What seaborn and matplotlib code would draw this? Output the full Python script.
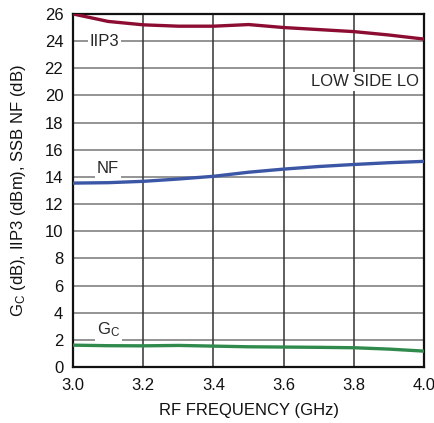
import matplotlib
matplotlib.use("Agg")
import matplotlib.pyplot as plt
import seaborn as sns
import pandas as pd
from matplotlib import font_manager

freq = [3.0, 3.1, 3.2, 3.3, 3.4, 3.5, 3.6, 3.7, 3.8, 3.9, 4.0]
iip3 = [26.0, 25.45, 25.2, 25.1, 25.1, 25.22, 25.0, 24.85, 24.7, 24.45, 24.15]
nf = [13.55, 13.58, 13.68, 13.85, 14.05, 14.35, 14.58, 14.77, 14.92, 15.05, 15.15]
gc = [1.62, 1.58, 1.57, 1.6, 1.55, 1.5, 1.48, 1.46, 1.43, 1.33, 1.18]

xticks = [3.0, 3.2, 3.4, 3.6, 3.8, 4.0]
yticks = list(range(0, 27, 2))

sns.set_theme(style="white")
names = {f.name for f in font_manager.fontManager.ttflist}
fam = "Liberation Sans Narrow" if "Liberation Sans Narrow" in names else "Liberation Sans"
plt.rcParams["font.family"] = [fam, "DejaVu Sans"]
plt.rcParams["mathtext.fontset"] = "custom"
plt.rcParams["mathtext.rm"] = fam
plt.rcParams["mathtext.it"] = fam

df = pd.DataFrame({
    "freq": freq * 3,
    "val": iip3 + nf + gc,
    "series": ["IIP3"] * len(freq) + ["NF"] * len(freq) + ["GC"] * len(freq),
})
palette = {"IIP3": "#8c0c32", "NF": "#3b56a5", "GC": "#2f8a4c"}

fig = plt.figure(figsize=(4.35, 4.23), dpi=100)
ax = fig.add_axes([0.168, 0.132, 0.807, 0.835])

for v in yticks[1:-1]:
    ax.axhline(v, color="#777777", lw=1.1, zorder=1)
for v in xticks[1:-1]:
    ax.axvline(v, color="#333333", lw=1.1, zorder=1)

sns.lineplot(data=df, x="freq", y="val", hue="series", palette=palette,
             linewidth=2.4, legend=False, ax=ax, zorder=3)

ax.set_xlim(3.0, 4.0)
ax.set_ylim(0, 26)
ax.set_xticks(xticks)
ax.set_xticklabels([f"{t:.1f}" for t in xticks])
ax.set_yticks(yticks)
ax.tick_params(axis="both", labelsize=12, length=0, colors="#111111")
ax.tick_params(axis="x", pad=8)
ax.tick_params(axis="y", pad=7)
for s in ax.spines.values():
    s.set_color("#111111")
    s.set_linewidth(1.6)

ax.set_xlabel("RF FREQUENCY (GHz)", fontsize=12, color="#111111", labelpad=7)
ax.set_ylabel("G$_{\\mathrm{C}}$ (dB), IIP3 (dBm), SSB NF (dB)", fontsize=12,
              color="#111111", labelpad=12)

bb = dict(facecolor="white", edgecolor="none", pad=1.5)
ax.text(3.09, 24, "IIP3", fontsize=12, ha="center", va="center", bbox=bb, zorder=2)
ax.text(3.1, 14.05, "NF", fontsize=12, ha="center", va="bottom", bbox=bb, zorder=2)
ax.text(3.1, 2.05, "G$_{\\mathrm{C}}$", fontsize=12, ha="center", va="bottom", bbox=bb, zorder=2)
ax.text(3.985, 21, "LOW SIDE LO", fontsize=12, ha="right", va="center", bbox=bb, zorder=2)

fig.savefig("out.png", dpi=100)
